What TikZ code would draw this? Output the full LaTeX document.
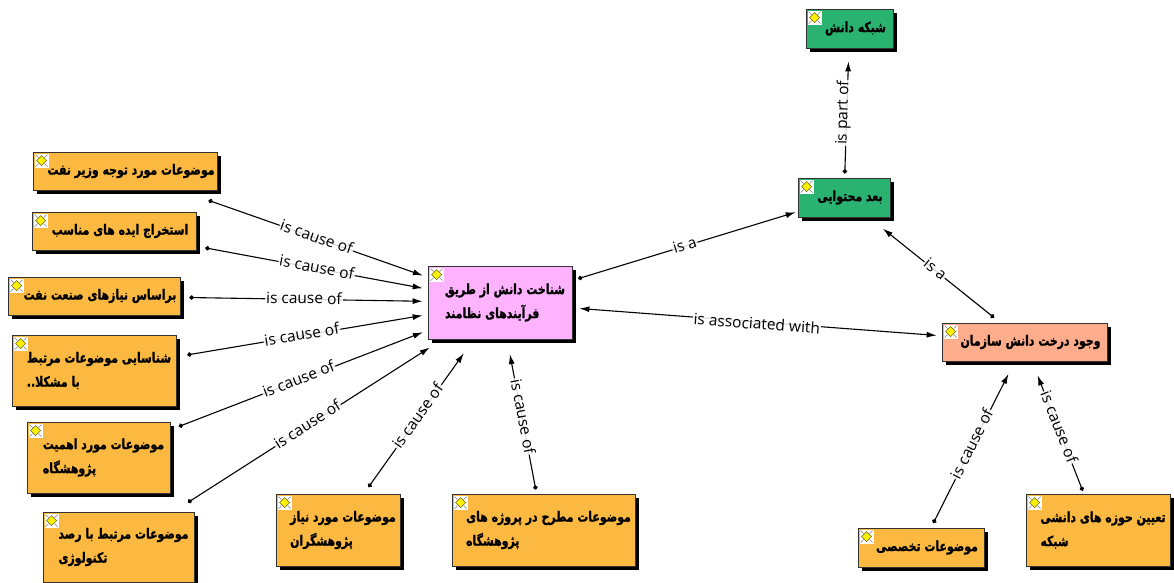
\documentclass[tikz,border=0pt]{standalone}
\usepackage{fontspec}
\usepackage{tikz}
\usetikzlibrary{positioning,arrows.meta,shadows}
\setmainfont{Open Sans}
\newfontfamily\farsi[Script=Arabic, FakeStretch=0.78, FakeBold=1.2]{DejaVu Sans Bold}
\TeXXeTstate=1
\newcommand{\fa}[1]{\beginR #1\endR}
\definecolor{cOrange}{RGB}{252,185,65}
\definecolor{cGreen}{RGB}{42,178,112}
\definecolor{cPink}{RGB}{255,179,255}
\definecolor{cSalmon}{RGB}{253,172,140}

\tikzset{cicon/.pic={
  \fill[white] (0,0) rectangle (14,14);
  \draw[gray, line width=0.5pt] (1,1)--(4,4) (13,1)--(10,4) (1,13)--(4,10) (13,13)--(10,10);
  \filldraw[fill=yellow, draw=olive!70!black, line width=0.6pt] (7,2) -- (12,7) -- (7,12) -- (2,7) -- cycle;
}}

\begin{document}
\begin{tikzpicture}[x=1pt, y=-1pt,
  concept/.style={draw=black!80, line width=0.8pt, rectangle, inner sep=2pt, align=left,
    font=\farsi\fontsize{14}{24}\selectfont,
    drop shadow={shadow xshift=4pt, shadow yshift=-4pt, fill=black, opacity=1}},
  link/.style={line width=1.1pt, {Circle[length=4.5pt]}-{Latex[length=10pt,width=6pt]}},
  lbl/.style={sloped, above=-6pt, fill=white, fill opacity=.85, text opacity=1, inner sep=1pt,
    font=\fontsize{15.5}{15}\selectfont}]
\useasboundingbox (0,0) rectangle (1174,582);

\node[concept, fill=cOrange, minimum width=184pt, minimum height=38pt] (b1) at (125,171) {\hspace*{12pt}\fa{موضوعات مورد توجه وزیر نفت}};
\node[concept, fill=cOrange, minimum width=164pt, minimum height=38pt] (b2) at (114,231) {\hspace*{12pt}\fa{استخراج ایده های مناسب}};
\node[concept, fill=cOrange, minimum width=172pt, minimum height=38pt] (b3) at (94,296) {\hspace*{12pt}\fa{براساس نیازهای صنعت نفت}};
\node[concept, fill=cOrange, minimum width=164pt, minimum height=71pt] (b4) at (94,370.5) {\hspace*{10pt}\fa{شناسایی موضوعات مرتبط}\\\hspace*{10pt}\fa{با مشکلا..}};
\node[concept, fill=cOrange, minimum width=143pt, minimum height=71pt] (b5) at (98.5,457.5) {\hspace*{10pt}\fa{موضوعات مورد اهمیت}\\\hspace*{10pt}\fa{پژوهشگاه}};
\node[concept, fill=cOrange, minimum width=151pt, minimum height=70pt] (b6) at (118.5,547) {\hspace*{10pt}\fa{موضوعات مرتبط با رصد}\\\hspace*{10pt}\fa{تکنولوژی}};
\node[concept, fill=cOrange, minimum width=124pt, minimum height=72pt] (b7) at (338,530) {\hspace*{10pt}\fa{موضوعات مورد نیاز}\\\hspace*{10pt}\fa{پژوهشگران}};
\node[concept, fill=cOrange, minimum width=183pt, minimum height=72pt] (b8) at (543.5,530) {\hspace*{10pt}\fa{موضوعات مطرح در پروژه های}\\\hspace*{10pt}\fa{پژوهشگاه}};
\node[concept, fill=cPink, minimum width=144pt, minimum height=73pt] (know) at (500,302.5) {\hspace*{10pt}\fa{شناخت دانش از طریق}\\\hspace*{10pt}\fa{فرآیندهای نظامند}};
\node[concept, fill=cGreen, minimum width=92pt, minimum height=39pt] (dim) at (844,197.5) {\hspace*{12pt}\fa{بعد محتوایی}};
\node[concept, fill=cGreen, minimum width=87pt, minimum height=39pt] (net) at (849.5,28.5) {\hspace*{12pt}\fa{شبکه دانش}};
\node[concept, fill=cSalmon, minimum width=165pt, minimum height=38pt] (tree) at (1024.5,342) {\hspace*{12pt}\fa{وجود درخت دانش سازمان}};
\node[concept, fill=cOrange, minimum width=126pt, minimum height=39pt] (spec) at (921,547.5) {\hspace*{12pt}\fa{موضوعات تخصصی}};
\node[concept, fill=cOrange, minimum width=144pt, minimum height=72pt] (area) at (1098,530) {\hspace*{10pt}\fa{تعیین حوزه های دانشی}\\\hspace*{10pt}\fa{شبکه}};

\foreach \n in {b1,b2,b3,b4,b5,b6,b7,b8,know,dim,net,tree,spec,area}
  \pic at ([shift={(2,2)}]\n.north west) {cicon};

\draw[link, shorten <=30pt, shorten >=5pt] (b1) -- node[lbl, pos=.55] {is cause of} (know);
\draw[link, shorten <=9pt, shorten >=5pt] (b2) -- node[lbl, pos=.52] {is cause of} (know);
\draw[link, shorten <=9pt, shorten >=5pt] (b3) -- node[lbl] {is cause of} (know);
\draw[link, shorten <=11pt, shorten >=5pt] (b4) -- node[lbl] {is cause of} (know);
\draw[link, shorten <=9pt, shorten >=5pt] (b5) -- node[lbl] {is cause of} (know);
\draw[link, shorten <=17pt, shorten >=15pt] (b6) -- node[lbl] {is cause of} (know);
\draw[link, shorten <=8pt, shorten >=17pt] (b7) -- node[lbl] {is cause of} (know);
\draw[link, shorten <=4pt, shorten >=15pt] (b8) -- node[lbl] {is cause of} (know);
\draw[link, shorten <=6pt, shorten >=2pt] (know) -- node[lbl] {is a} (dim);
\draw[link, shorten <=8pt, shorten >=18pt] (tree) -- node[lbl] {is a} (dim);
\draw[line width=1.1pt, {Latex[length=10pt,width=6pt]}-{Latex[length=10pt,width=6pt]}, shorten <=7pt, shorten >=5pt] (know) -- node[lbl, above=-9pt] {is associated with} (tree);
\draw[link, shorten <=4pt, shorten >=13pt] (dim) -- node[lbl] {is part of} (net);
\draw[link, shorten <=5pt, shorten >=14pt] (spec) -- node[lbl] {is cause of} (tree);
\draw[link, shorten <=3pt, shorten >=15pt] (area) -- node[lbl] {is cause of} (tree);
\end{tikzpicture}
\end{document}
